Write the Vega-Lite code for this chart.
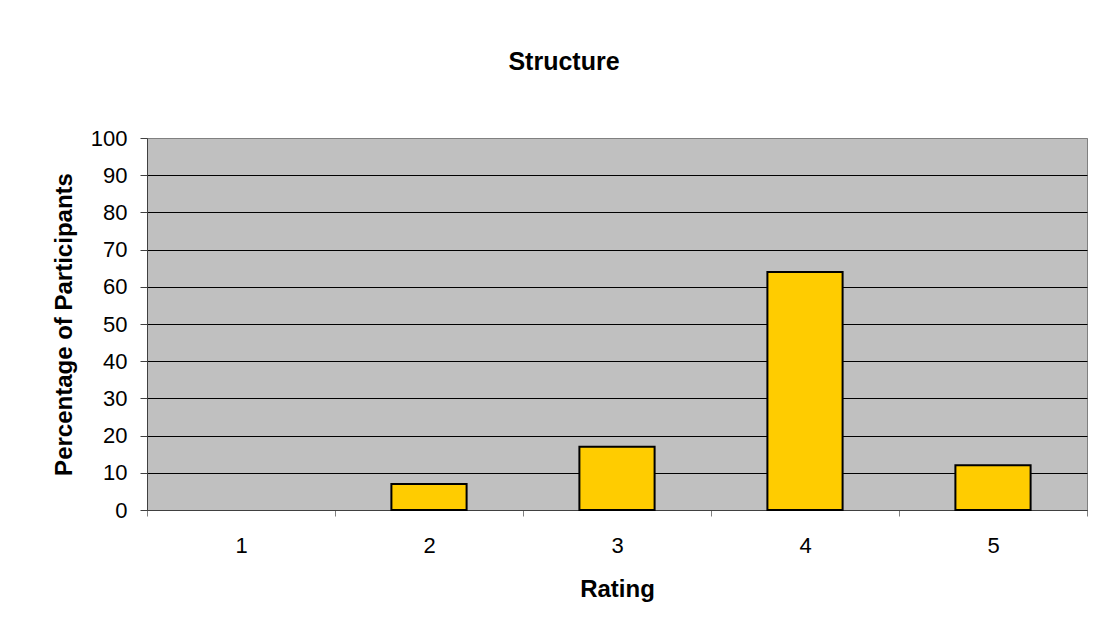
{
  "$schema": "https://vega.github.io/schema/vega-lite/v6.json",
  "autosize": "none",
  "width": 940,
  "height": 372,
  "padding": {"left": 147, "top": 138, "right": 27, "bottom": 127},
  "background": "white",
  "title": {
    "text": "Structure",
    "font": "Liberation Sans",
    "fontSize": 25,
    "fontWeight": "bold",
    "color": "black",
    "anchor": "middle",
    "dx": -53,
    "offset": 52
  },
  "data": {
    "values": [
      {"Rating": "1", "Percent": 0},
      {"Rating": "2", "Percent": 7},
      {"Rating": "3", "Percent": 17},
      {"Rating": "4", "Percent": 64},
      {"Rating": "5", "Percent": 12}
    ]
  },
  "mark": {"type": "bar", "fill": "#FFCC00", "stroke": "black", "strokeWidth": 2, "width": {"band": 0.4}},
  "encoding": {
    "x": {
      "field": "Rating",
      "type": "ordinal",
      "scale": {"paddingInner": 0, "paddingOuter": 0},
      "axis": {
        "title": "Rating",
        "labelAngle": 0,
        "tickBand": "extent",
        "tickSize": 6,
        "tickColor": "#808080",
        "domainColor": "#404040",
        "labelPadding": 19,
        "titlePadding": 21
      }
    },
    "y": {
      "field": "Percent",
      "type": "quantitative",
      "scale": {"domain": [0, 100]},
      "axis": {
        "title": "Percentage of Participants",
        "values": [0, 10, 20, 30, 40, 50, 60, 70, 80, 90, 100],
        "grid": true,
        "gridColor": {"condition": {"test": "datum.value == 100", "value": "#808080"}, "value": "black"},
        "gridOpacity": 1,
        "gridWidth": 1,
        "tickSize": 7,
        "tickColor": "#404040",
        "domainColor": "#404040",
        "labelPadding": 13,
        "titlePadding": 14
      }
    },
    "strokeOpacity": {
      "condition": {"test": "datum.Percent > 0", "value": 1},
      "value": 0
    }
  },
  "config": {
    "font": "Liberation Sans",
    "view": {"fill": "#C0C0C0", "stroke": "#808080", "strokeWidth": 1},
    "axis": {
      "labelFont": "Liberation Sans",
      "labelFontSize": 22,
      "labelColor": "black",
      "titleFont": "Liberation Sans",
      "titleFontSize": 24,
      "titleFontWeight": "bold",
      "titleColor": "black"
    }
  }
}
